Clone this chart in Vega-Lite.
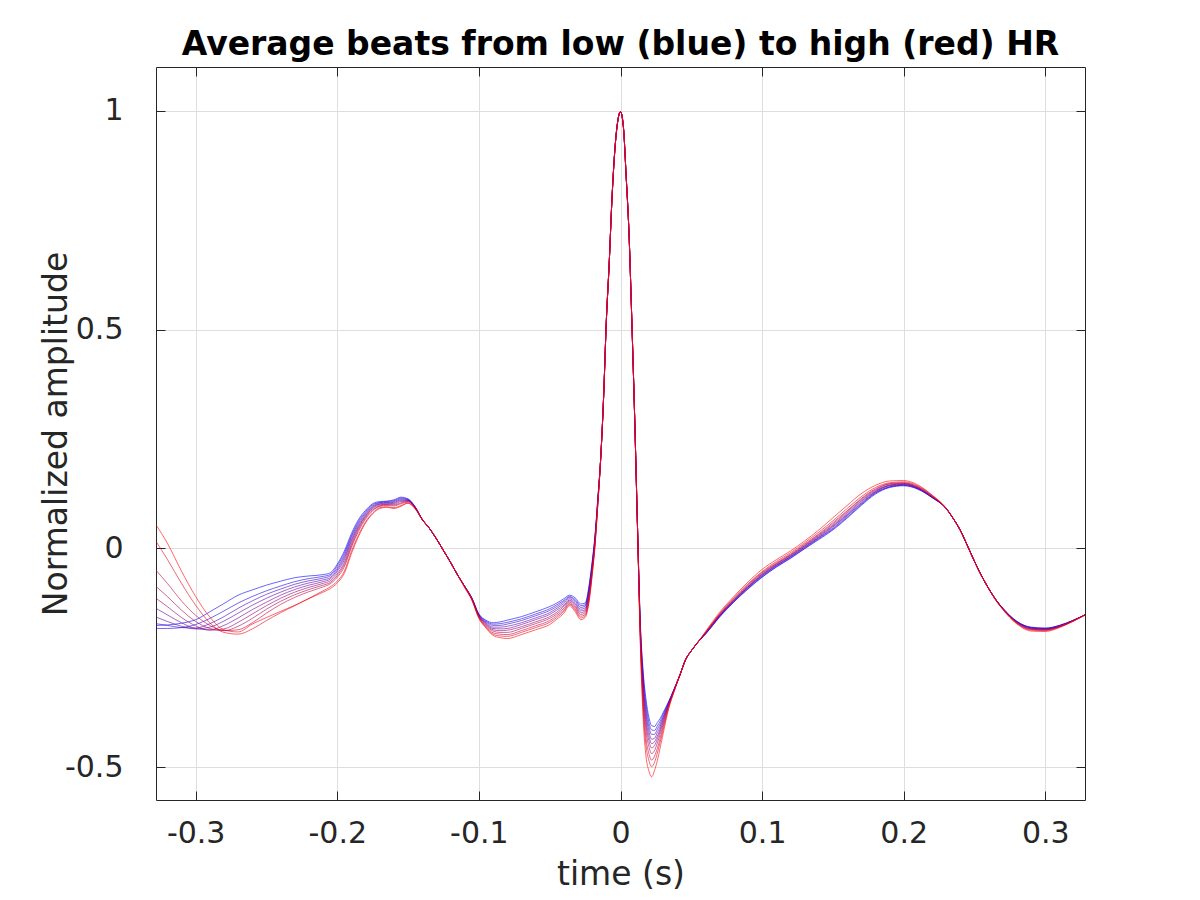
{
  "$schema": "https://vega.github.io/schema/vega-lite/v6.json",
  "width": 929,
  "height": 733,
  "autosize": {"type": "none"},
  "padding": {"left": 156, "top": 67, "right": 115, "bottom": 100},
  "background": "#ffffff",
  "title": {
    "text": "Average beats from low (blue) to high (red) HR",
    "font": "DejaVu Sans",
    "fontSize": 33,
    "fontWeight": "bold",
    "color": "#000000",
    "anchor": "middle",
    "frame": "group",
    "baseline": "alphabetic",
    "offset": -21
  },
  "data": {
    "values": [
      {"t": -0.328, "b0": -0.176, "b1": -0.183, "b2": -0.172, "b3": -0.157, "b4": -0.137, "b5": -0.114, "b6": -0.087, "b7": -0.050, "b8": 0.016, "b9": 0.054},
      {"t": -0.32, "b0": -0.175, "b1": -0.183, "b2": -0.176, "b3": -0.167, "b4": -0.152, "b5": -0.133, "b6": -0.110, "b7": -0.080, "b8": -0.025, "b9": 0.012},
      {"t": -0.31, "b0": -0.171, "b1": -0.181, "b2": -0.181, "b3": -0.178, "b4": -0.170, "b5": -0.158, "b6": -0.141, "b7": -0.120, "b8": -0.080, "b9": -0.052},
      {"t": -0.30, "b0": -0.163, "b1": -0.174, "b2": -0.182, "b3": -0.184, "b4": -0.183, "b5": -0.177, "b6": -0.167, "b7": -0.153, "b8": -0.130, "b9": -0.110},
      {"t": -0.29, "b0": -0.145, "b1": -0.160, "b2": -0.172, "b3": -0.180, "b4": -0.186, "b5": -0.187, "b6": -0.183, "b7": -0.176, "b8": -0.170, "b9": -0.157},
      {"t": -0.28, "b0": -0.126, "b1": -0.143, "b2": -0.156, "b3": -0.166, "b4": -0.176, "b5": -0.184, "b6": -0.188, "b7": -0.188, "b8": -0.192, "b9": -0.186},
      {"t": -0.27, "b0": -0.107, "b1": -0.125, "b2": -0.137, "b3": -0.148, "b4": -0.159, "b5": -0.169, "b6": -0.178, "b7": -0.186, "b8": -0.196, "b9": -0.191},
      {"t": -0.26, "b0": -0.095, "b1": -0.110, "b2": -0.120, "b3": -0.130, "b4": -0.140, "b5": -0.150, "b6": -0.160, "b7": -0.170, "b8": -0.184, "b9": -0.173},
      {"t": -0.25, "b0": -0.084, "b1": -0.097, "b2": -0.105, "b3": -0.114, "b4": -0.123, "b5": -0.131, "b6": -0.139, "b7": -0.148, "b8": -0.165, "b9": -0.158},
      {"t": -0.24, "b0": -0.075, "b1": -0.086, "b2": -0.093, "b3": -0.100, "b4": -0.107, "b5": -0.114, "b6": -0.121, "b7": -0.128, "b8": -0.147, "b9": -0.144},
      {"t": -0.23, "b0": -0.067, "b1": -0.076, "b2": -0.082, "b3": -0.088, "b4": -0.094, "b5": -0.100, "b6": -0.106, "b7": -0.112, "b8": -0.131, "b9": -0.130},
      {"t": -0.22, "b0": -0.063, "b1": -0.069, "b2": -0.074, "b3": -0.079, "b4": -0.084, "b5": -0.089, "b6": -0.094, "b7": -0.099, "b8": -0.114, "b9": -0.115},
      {"t": -0.21, "b0": -0.060, "b1": -0.064, "b2": -0.068, "b3": -0.072, "b4": -0.076, "b5": -0.080, "b6": -0.084, "b7": -0.088, "b8": -0.097, "b9": -0.100},
      {"t": -0.205, "b0": -0.056, "b1": -0.060, "b2": -0.063, "b3": -0.067, "b4": -0.070, "b5": -0.074, "b6": -0.078, "b7": -0.081, "b8": -0.088, "b9": -0.092},
      {"t": -0.20, "b0": -0.036, "b1": -0.040, "b2": -0.045, "b3": -0.049, "b4": -0.053, "b5": -0.058, "b6": -0.062, "b7": -0.066, "b8": -0.075, "b9": -0.079},
      {"t": -0.195, "b0": -0.006, "b1": -0.011, "b2": -0.016, "b3": -0.021, "b4": -0.026, "b5": -0.032, "b6": -0.037, "b7": -0.042, "b8": -0.052, "b9": -0.057},
      {"t": -0.19, "b0": 0.034, "b1": 0.029, "b2": 0.025, "b3": 0.020, "b4": 0.016, "b5": 0.011, "b6": 0.006, "b7": 0.002, "b8": -0.007, "b9": -0.012},
      {"t": -0.185, "b0": 0.066, "b1": 0.062, "b2": 0.058, "b3": 0.054, "b4": 0.050, "b5": 0.047, "b6": 0.043, "b7": 0.039, "b8": 0.031, "b9": 0.027},
      {"t": -0.18, "b0": 0.087, "b1": 0.084, "b2": 0.081, "b3": 0.078, "b4": 0.075, "b5": 0.073, "b6": 0.070, "b7": 0.067, "b8": 0.061, "b9": 0.058},
      {"t": -0.175, "b0": 0.102, "b1": 0.100, "b2": 0.097, "b3": 0.095, "b4": 0.093, "b5": 0.091, "b6": 0.088, "b7": 0.086, "b8": 0.081, "b9": 0.079},
      {"t": -0.17, "b0": 0.107, "b1": 0.105, "b2": 0.104, "b3": 0.102, "b4": 0.101, "b5": 0.099, "b6": 0.097, "b7": 0.096, "b8": 0.093, "b9": 0.091},
      {"t": -0.165, "b0": 0.108, "b1": 0.107, "b2": 0.105, "b3": 0.104, "b4": 0.102, "b5": 0.101, "b6": 0.100, "b7": 0.098, "b8": 0.095, "b9": 0.094},
      {"t": -0.16, "b0": 0.111, "b1": 0.109, "b2": 0.107, "b3": 0.105, "b4": 0.103, "b5": 0.101, "b6": 0.099, "b7": 0.097, "b8": 0.093, "b9": 0.091},
      {"t": -0.155, "b0": 0.117, "b1": 0.115, "b2": 0.113, "b3": 0.111, "b4": 0.109, "b5": 0.107, "b6": 0.104, "b7": 0.102, "b8": 0.098, "b9": 0.096},
      {"t": -0.15, "b0": 0.113, "b1": 0.112, "b2": 0.111, "b3": 0.110, "b4": 0.109, "b5": 0.108, "b6": 0.107, "b7": 0.106, "b8": 0.104, "b9": 0.103},
      {"t": -0.145, "b0": 0.095, "b1": 0.095, "b2": 0.094, "b3": 0.094, "b4": 0.093, "b5": 0.093, "b6": 0.092, "b7": 0.092, "b8": 0.091, "b9": 0.090},
      {"t": -0.14, "b0": 0.066, "b1": 0.066, "b2": 0.066, "b3": 0.066, "b4": 0.066, "b5": 0.066, "b6": 0.066, "b7": 0.066, "b8": 0.066, "b9": 0.066},
      {"t": -0.135, "b0": 0.046, "b1": 0.046, "b2": 0.046, "b3": 0.046, "b4": 0.046, "b5": 0.046, "b6": 0.046, "b7": 0.046, "b8": 0.046, "b9": 0.046},
      {"t": -0.13, "b0": 0.022, "b1": 0.022, "b2": 0.022, "b3": 0.022, "b4": 0.022, "b5": 0.022, "b6": 0.022, "b7": 0.022, "b8": 0.022, "b9": 0.022},
      {"t": -0.125, "b0": -0.005, "b1": -0.005, "b2": -0.005, "b3": -0.005, "b4": -0.005, "b5": -0.005, "b6": -0.005, "b7": -0.005, "b8": -0.005, "b9": -0.005},
      {"t": -0.12, "b0": -0.032, "b1": -0.032, "b2": -0.032, "b3": -0.032, "b4": -0.032, "b5": -0.032, "b6": -0.032, "b7": -0.032, "b8": -0.032, "b9": -0.032},
      {"t": -0.115, "b0": -0.061, "b1": -0.061, "b2": -0.061, "b3": -0.061, "b4": -0.061, "b5": -0.061, "b6": -0.061, "b7": -0.061, "b8": -0.061, "b9": -0.061},
      {"t": -0.11, "b0": -0.087, "b1": -0.087, "b2": -0.087, "b3": -0.087, "b4": -0.087, "b5": -0.087, "b6": -0.087, "b7": -0.088, "b8": -0.089, "b9": -0.090},
      {"t": -0.105, "b0": -0.113, "b1": -0.113, "b2": -0.114, "b3": -0.114, "b4": -0.115, "b5": -0.115, "b6": -0.116, "b7": -0.116, "b8": -0.117, "b9": -0.118},
      {"t": -0.10, "b0": -0.150, "b1": -0.151, "b2": -0.152, "b3": -0.153, "b4": -0.154, "b5": -0.155, "b6": -0.156, "b7": -0.157, "b8": -0.159, "b9": -0.160},
      {"t": -0.095, "b0": -0.164, "b1": -0.166, "b2": -0.168, "b3": -0.170, "b4": -0.172, "b5": -0.174, "b6": -0.176, "b7": -0.178, "b8": -0.180, "b9": -0.182},
      {"t": -0.09, "b0": -0.170, "b1": -0.173, "b2": -0.176, "b3": -0.180, "b4": -0.183, "b5": -0.186, "b6": -0.189, "b7": -0.193, "b8": -0.196, "b9": -0.199},
      {"t": -0.085, "b0": -0.168, "b1": -0.172, "b2": -0.176, "b3": -0.180, "b4": -0.184, "b5": -0.188, "b6": -0.192, "b7": -0.196, "b8": -0.200, "b9": -0.204},
      {"t": -0.08, "b0": -0.164, "b1": -0.169, "b2": -0.173, "b3": -0.178, "b4": -0.183, "b5": -0.187, "b6": -0.192, "b7": -0.197, "b8": -0.201, "b9": -0.206},
      {"t": -0.07, "b0": -0.156, "b1": -0.161, "b2": -0.165, "b3": -0.170, "b4": -0.174, "b5": -0.179, "b6": -0.183, "b7": -0.188, "b8": -0.192, "b9": -0.197},
      {"t": -0.06, "b0": -0.145, "b1": -0.150, "b2": -0.154, "b3": -0.159, "b4": -0.163, "b5": -0.168, "b6": -0.172, "b7": -0.177, "b8": -0.181, "b9": -0.186},
      {"t": -0.05, "b0": -0.133, "b1": -0.138, "b2": -0.142, "b3": -0.147, "b4": -0.151, "b5": -0.156, "b6": -0.160, "b7": -0.165, "b8": -0.169, "b9": -0.174},
      {"t": -0.045, "b0": -0.125, "b1": -0.129, "b2": -0.133, "b3": -0.137, "b4": -0.141, "b5": -0.146, "b6": -0.150, "b7": -0.154, "b8": -0.158, "b9": -0.162},
      {"t": -0.04, "b0": -0.115, "b1": -0.119, "b2": -0.122, "b3": -0.126, "b4": -0.130, "b5": -0.133, "b6": -0.137, "b7": -0.141, "b8": -0.144, "b9": -0.148},
      {"t": -0.036, "b0": -0.107, "b1": -0.110, "b2": -0.112, "b3": -0.115, "b4": -0.118, "b5": -0.120, "b6": -0.123, "b7": -0.126, "b8": -0.128, "b9": -0.131},
      {"t": -0.032, "b0": -0.113, "b1": -0.117, "b2": -0.120, "b3": -0.124, "b4": -0.127, "b5": -0.131, "b6": -0.134, "b7": -0.138, "b8": -0.141, "b9": -0.145},
      {"t": -0.028, "b0": -0.127, "b1": -0.131, "b2": -0.135, "b3": -0.139, "b4": -0.143, "b5": -0.147, "b6": -0.151, "b7": -0.155, "b8": -0.159, "b9": -0.163},
      {"t": -0.025, "b0": -0.125, "b1": -0.129, "b2": -0.132, "b3": -0.136, "b4": -0.140, "b5": -0.143, "b6": -0.147, "b7": -0.151, "b8": -0.154, "b9": -0.158},
      {"t": -0.022, "b0": -0.080, "b1": -0.084, "b2": -0.088, "b3": -0.093, "b4": -0.097, "b5": -0.101, "b6": -0.105, "b7": -0.110, "b8": -0.114, "b9": -0.118},
      {"t": -0.02, "b0": -0.030, "b1": -0.034, "b2": -0.037, "b3": -0.041, "b4": -0.044, "b5": -0.048, "b6": -0.051, "b7": -0.055, "b8": -0.058, "b9": -0.062},
      {"t": -0.018, "b0": 0.030, "b1": 0.027, "b2": 0.024, "b3": 0.022, "b4": 0.019, "b5": 0.016, "b6": 0.013, "b7": 0.011, "b8": 0.008, "b9": 0.005},
      {"t": -0.016, "b0": 0.115, "b1": 0.113, "b2": 0.112, "b3": 0.110, "b4": 0.108, "b5": 0.107, "b6": 0.105, "b7": 0.103, "b8": 0.102, "b9": 0.100},
      {"t": -0.014, "b0": 0.205, "b1": 0.205, "b2": 0.205, "b3": 0.205, "b4": 0.205, "b5": 0.205, "b6": 0.205, "b7": 0.205, "b8": 0.205, "b9": 0.205},
      {"t": -0.012, "b0": 0.34, "b1": 0.34, "b2": 0.34, "b3": 0.34, "b4": 0.34, "b5": 0.34, "b6": 0.34, "b7": 0.34, "b8": 0.34, "b9": 0.34},
      {"t": -0.010, "b0": 0.52, "b1": 0.52, "b2": 0.52, "b3": 0.52, "b4": 0.52, "b5": 0.52, "b6": 0.52, "b7": 0.52, "b8": 0.52, "b9": 0.52},
      {"t": -0.008, "b0": 0.65, "b1": 0.65, "b2": 0.65, "b3": 0.65, "b4": 0.65, "b5": 0.65, "b6": 0.65, "b7": 0.65, "b8": 0.65, "b9": 0.65},
      {"t": -0.006, "b0": 0.80, "b1": 0.80, "b2": 0.80, "b3": 0.80, "b4": 0.80, "b5": 0.80, "b6": 0.80, "b7": 0.80, "b8": 0.80, "b9": 0.80},
      {"t": -0.004, "b0": 0.91, "b1": 0.91, "b2": 0.91, "b3": 0.91, "b4": 0.91, "b5": 0.91, "b6": 0.91, "b7": 0.91, "b8": 0.91, "b9": 0.91},
      {"t": -0.002, "b0": 0.975, "b1": 0.975, "b2": 0.975, "b3": 0.975, "b4": 0.975, "b5": 0.975, "b6": 0.975, "b7": 0.975, "b8": 0.975, "b9": 0.975},
      {"t": 0.0, "b0": 0.998, "b1": 0.998, "b2": 0.998, "b3": 0.998, "b4": 0.998, "b5": 0.998, "b6": 0.998, "b7": 0.998, "b8": 0.998, "b9": 0.998},
      {"t": 0.002, "b0": 0.965, "b1": 0.965, "b2": 0.965, "b3": 0.965, "b4": 0.965, "b5": 0.965, "b6": 0.965, "b7": 0.965, "b8": 0.965, "b9": 0.965},
      {"t": 0.004, "b0": 0.85, "b1": 0.85, "b2": 0.85, "b3": 0.85, "b4": 0.85, "b5": 0.85, "b6": 0.85, "b7": 0.85, "b8": 0.85, "b9": 0.85},
      {"t": 0.006, "b0": 0.72, "b1": 0.72, "b2": 0.72, "b3": 0.72, "b4": 0.72, "b5": 0.72, "b6": 0.72, "b7": 0.72, "b8": 0.72, "b9": 0.72},
      {"t": 0.008, "b0": 0.52, "b1": 0.52, "b2": 0.52, "b3": 0.52, "b4": 0.52, "b5": 0.52, "b6": 0.52, "b7": 0.52, "b8": 0.52, "b9": 0.52},
      {"t": 0.010, "b0": 0.30, "b1": 0.30, "b2": 0.30, "b3": 0.30, "b4": 0.30, "b5": 0.30, "b6": 0.30, "b7": 0.30, "b8": 0.30, "b9": 0.30},
      {"t": 0.012, "b0": 0.05, "b1": 0.05, "b2": 0.05, "b3": 0.05, "b4": 0.05, "b5": 0.05, "b6": 0.05, "b7": 0.05, "b8": 0.05, "b9": 0.05},
      {"t": 0.014, "b0": -0.170, "b1": -0.174, "b2": -0.179, "b3": -0.183, "b4": -0.188, "b5": -0.192, "b6": -0.197, "b7": -0.204, "b8": -0.210, "b9": -0.220},
      {"t": 0.016, "b0": -0.280, "b1": -0.290, "b2": -0.299, "b3": -0.309, "b4": -0.319, "b5": -0.328, "b6": -0.340, "b7": -0.354, "b8": -0.369, "b9": -0.390},
      {"t": 0.018, "b0": -0.345, "b1": -0.356, "b2": -0.368, "b3": -0.379, "b4": -0.391, "b5": -0.402, "b6": -0.416, "b7": -0.433, "b8": -0.450, "b9": -0.475},
      {"t": 0.020, "b0": -0.385, "b1": -0.396, "b2": -0.407, "b3": -0.417, "b4": -0.428, "b5": -0.439, "b6": -0.452, "b7": -0.468, "b8": -0.484, "b9": -0.508},
      {"t": 0.022, "b0": -0.405, "b1": -0.415, "b2": -0.425, "b3": -0.436, "b4": -0.446, "b5": -0.456, "b6": -0.469, "b7": -0.484, "b8": -0.499, "b9": -0.522},
      {"t": 0.024, "b0": -0.407, "b1": -0.416, "b2": -0.425, "b3": -0.434, "b4": -0.442, "b5": -0.451, "b6": -0.462, "b7": -0.475, "b8": -0.489, "b9": -0.508},
      {"t": 0.026, "b0": -0.398, "b1": -0.406, "b2": -0.413, "b3": -0.421, "b4": -0.429, "b5": -0.436, "b6": -0.445, "b7": -0.457, "b8": -0.468, "b9": -0.485},
      {"t": 0.028, "b0": -0.389, "b1": -0.395, "b2": -0.401, "b3": -0.407, "b4": -0.413, "b5": -0.418, "b6": -0.425, "b7": -0.434, "b8": -0.443, "b9": -0.456},
      {"t": 0.030, "b0": -0.376, "b1": -0.380, "b2": -0.385, "b3": -0.389, "b4": -0.393, "b5": -0.398, "b6": -0.403, "b7": -0.409, "b8": -0.416, "b9": -0.425},
      {"t": 0.034, "b0": -0.350, "b1": -0.351, "b2": -0.353, "b3": -0.354, "b4": -0.356, "b5": -0.357, "b6": -0.359, "b7": -0.361, "b8": -0.364, "b9": -0.367},
      {"t": 0.038, "b0": -0.320, "b1": -0.321, "b2": -0.321, "b3": -0.322, "b4": -0.322, "b5": -0.323, "b6": -0.323, "b7": -0.324, "b8": -0.325, "b9": -0.326},
      {"t": 0.042, "b0": -0.289, "b1": -0.289, "b2": -0.289, "b3": -0.289, "b4": -0.289, "b5": -0.289, "b6": -0.289, "b7": -0.289, "b8": -0.289, "b9": -0.289},
      {"t": 0.046, "b0": -0.254, "b1": -0.254, "b2": -0.254, "b3": -0.254, "b4": -0.254, "b5": -0.254, "b6": -0.254, "b7": -0.254, "b8": -0.254, "b9": -0.254},
      {"t": 0.05, "b0": -0.234, "b1": -0.234, "b2": -0.234, "b3": -0.234, "b4": -0.234, "b5": -0.234, "b6": -0.234, "b7": -0.234, "b8": -0.234, "b9": -0.234},
      {"t": 0.055, "b0": -0.213, "b1": -0.213, "b2": -0.213, "b3": -0.213, "b4": -0.213, "b5": -0.213, "b6": -0.213, "b7": -0.213, "b8": -0.213, "b9": -0.213},
      {"t": 0.06, "b0": -0.196, "b1": -0.196, "b2": -0.195, "b3": -0.195, "b4": -0.194, "b5": -0.194, "b6": -0.193, "b7": -0.192, "b8": -0.192, "b9": -0.190},
      {"t": 0.07, "b0": -0.157, "b1": -0.156, "b2": -0.155, "b3": -0.154, "b4": -0.153, "b5": -0.153, "b6": -0.152, "b7": -0.150, "b8": -0.149, "b9": -0.146},
      {"t": 0.08, "b0": -0.123, "b1": -0.122, "b2": -0.121, "b3": -0.120, "b4": -0.119, "b5": -0.118, "b6": -0.117, "b7": -0.115, "b8": -0.113, "b9": -0.110},
      {"t": 0.09, "b0": -0.093, "b1": -0.092, "b2": -0.090, "b3": -0.089, "b4": -0.088, "b5": -0.087, "b6": -0.085, "b7": -0.083, "b8": -0.081, "b9": -0.077},
      {"t": 0.10, "b0": -0.066, "b1": -0.065, "b2": -0.063, "b3": -0.062, "b4": -0.060, "b5": -0.059, "b6": -0.057, "b7": -0.055, "b8": -0.053, "b9": -0.048},
      {"t": 0.11, "b0": -0.043, "b1": -0.042, "b2": -0.040, "b3": -0.039, "b4": -0.038, "b5": -0.036, "b6": -0.035, "b7": -0.033, "b8": -0.030, "b9": -0.026},
      {"t": 0.12, "b0": -0.023, "b1": -0.022, "b2": -0.020, "b3": -0.019, "b4": -0.018, "b5": -0.016, "b6": -0.015, "b7": -0.013, "b8": -0.010, "b9": -0.006},
      {"t": 0.13, "b0": -0.001, "b1": 0.000, "b2": 0.002, "b3": 0.003, "b4": 0.005, "b5": 0.006, "b6": 0.008, "b7": 0.010, "b8": 0.013, "b9": 0.017},
      {"t": 0.14, "b0": 0.020, "b1": 0.022, "b2": 0.024, "b3": 0.025, "b4": 0.027, "b5": 0.029, "b6": 0.031, "b7": 0.033, "b8": 0.037, "b9": 0.042},
      {"t": 0.15, "b0": 0.042, "b1": 0.044, "b2": 0.046, "b3": 0.049, "b4": 0.051, "b5": 0.053, "b6": 0.056, "b7": 0.059, "b8": 0.063, "b9": 0.070},
      {"t": 0.16, "b0": 0.069, "b1": 0.071, "b2": 0.074, "b3": 0.076, "b4": 0.078, "b5": 0.081, "b6": 0.084, "b7": 0.086, "b8": 0.091, "b9": 0.098},
      {"t": 0.17, "b0": 0.098, "b1": 0.100, "b2": 0.102, "b3": 0.104, "b4": 0.107, "b5": 0.109, "b6": 0.112, "b7": 0.114, "b8": 0.118, "b9": 0.125},
      {"t": 0.18, "b0": 0.124, "b1": 0.126, "b2": 0.127, "b3": 0.129, "b4": 0.130, "b5": 0.132, "b6": 0.134, "b7": 0.136, "b8": 0.139, "b9": 0.144},
      {"t": 0.19, "b0": 0.139, "b1": 0.140, "b2": 0.141, "b3": 0.143, "b4": 0.144, "b5": 0.145, "b6": 0.147, "b7": 0.148, "b8": 0.150, "b9": 0.154},
      {"t": 0.20, "b0": 0.143, "b1": 0.144, "b2": 0.145, "b3": 0.146, "b4": 0.147, "b5": 0.148, "b6": 0.149, "b7": 0.150, "b8": 0.152, "b9": 0.155},
      {"t": 0.21, "b0": 0.135, "b1": 0.136, "b2": 0.137, "b3": 0.137, "b4": 0.138, "b5": 0.139, "b6": 0.140, "b7": 0.141, "b8": 0.143, "b9": 0.145},
      {"t": 0.22, "b0": 0.116, "b1": 0.116, "b2": 0.117, "b3": 0.117, "b4": 0.118, "b5": 0.118, "b6": 0.119, "b7": 0.120, "b8": 0.121, "b9": 0.122},
      {"t": 0.23, "b0": 0.091, "b1": 0.091, "b2": 0.091, "b3": 0.091, "b4": 0.091, "b5": 0.091, "b6": 0.091, "b7": 0.091, "b8": 0.091, "b9": 0.092},
      {"t": 0.235, "b0": 0.068, "b1": 0.068, "b2": 0.068, "b3": 0.068, "b4": 0.068, "b5": 0.068, "b6": 0.068, "b7": 0.068, "b8": 0.068, "b9": 0.068},
      {"t": 0.24, "b0": 0.041, "b1": 0.041, "b2": 0.041, "b3": 0.041, "b4": 0.041, "b5": 0.041, "b6": 0.041, "b7": 0.041, "b8": 0.041, "b9": 0.041},
      {"t": 0.245, "b0": 0.006, "b1": 0.006, "b2": 0.006, "b3": 0.006, "b4": 0.006, "b5": 0.006, "b6": 0.006, "b7": 0.006, "b8": 0.006, "b9": 0.006},
      {"t": 0.25, "b0": -0.030, "b1": -0.030, "b2": -0.030, "b3": -0.030, "b4": -0.030, "b5": -0.030, "b6": -0.030, "b7": -0.030, "b8": -0.030, "b9": -0.030},
      {"t": 0.255, "b0": -0.063, "b1": -0.063, "b2": -0.063, "b3": -0.063, "b4": -0.063, "b5": -0.063, "b6": -0.063, "b7": -0.063, "b8": -0.063, "b9": -0.063},
      {"t": 0.26, "b0": -0.092, "b1": -0.092, "b2": -0.092, "b3": -0.092, "b4": -0.092, "b5": -0.092, "b6": -0.092, "b7": -0.092, "b8": -0.092, "b9": -0.092},
      {"t": 0.265, "b0": -0.117, "b1": -0.117, "b2": -0.117, "b3": -0.117, "b4": -0.117, "b5": -0.117, "b6": -0.118, "b7": -0.118, "b8": -0.118, "b9": -0.119},
      {"t": 0.27, "b0": -0.137, "b1": -0.137, "b2": -0.137, "b3": -0.138, "b4": -0.138, "b5": -0.138, "b6": -0.138, "b7": -0.139, "b8": -0.139, "b9": -0.140},
      {"t": 0.28, "b0": -0.167, "b1": -0.167, "b2": -0.168, "b3": -0.168, "b4": -0.169, "b5": -0.169, "b6": -0.170, "b7": -0.171, "b8": -0.172, "b9": -0.173},
      {"t": 0.29, "b0": -0.180, "b1": -0.181, "b2": -0.181, "b3": -0.182, "b4": -0.183, "b5": -0.184, "b6": -0.185, "b7": -0.185, "b8": -0.187, "b9": -0.189},
      {"t": 0.30, "b0": -0.182, "b1": -0.183, "b2": -0.183, "b3": -0.184, "b4": -0.185, "b5": -0.185, "b6": -0.186, "b7": -0.187, "b8": -0.188, "b9": -0.190},
      {"t": 0.31, "b0": -0.176, "b1": -0.176, "b2": -0.177, "b3": -0.177, "b4": -0.178, "b5": -0.178, "b6": -0.179, "b7": -0.179, "b8": -0.180, "b9": -0.181},
      {"t": 0.32, "b0": -0.164, "b1": -0.164, "b2": -0.164, "b3": -0.164, "b4": -0.165, "b5": -0.165, "b6": -0.165, "b7": -0.165, "b8": -0.166, "b9": -0.166},
      {"t": 0.328, "b0": -0.152, "b1": -0.152, "b2": -0.152, "b3": -0.152, "b4": -0.152, "b5": -0.152, "b6": -0.152, "b7": -0.152, "b8": -0.152, "b9": -0.152}
    ]
  },
  "transform": [
    {"fold": ["b0", "b1", "b2", "b3", "b4", "b5", "b6", "b7", "b8", "b9"], "as": ["beat", "amp"]}
  ],
  "layer": [
    {
      "mark": {"type": "line", "strokeWidth": 0.8, "opacity": 0.75, "interpolate": "monotone", "clip": true},
      "encoding": {
        "x": {
          "field": "t",
          "type": "quantitative",
          "scale": {"domain": [-0.328, 0.328], "nice": false, "zero": false},
          "axis": {
            "orient": "bottom",
            "values": [-0.3, -0.2, -0.1, 0, 0.1, 0.2, 0.3],
            "labelExpr": "toString(datum.value)",
            "grid": true,
            "gridColor": "#dedede",
            "gridWidth": 1,
            "domainColor": "#262626",
            "domainWidth": 1,
            "tickColor": "#262626",
            "tickWidth": 1,
            "tickSize": -9,
            "labelFont": "DejaVu Sans",
            "labelFontSize": 30,
            "labelColor": "#262626",
            "labelBaseline": "alphabetic",
            "labelPadding": 51,
            "labelFlush": false,
            "labelOverlap": false,
            "title": "time (s)",
            "titleFont": "DejaVu Sans",
            "titleFontSize": 33,
            "titleFontWeight": "normal",
            "titleColor": "#262626",
            "titleBaseline": "alphabetic",
            "titleAlign": "center",
            "titleX": 464.5,
            "titleY": 84
          }
        },
        "y": {
          "field": "amp",
          "type": "quantitative",
          "scale": {"domain": [-0.575, 1.1], "nice": false, "zero": false},
          "axis": {
            "orient": "left",
            "values": [-0.5, 0, 0.5, 1],
            "labelExpr": "toString(datum.value)",
            "grid": true,
            "gridColor": "#dedede",
            "gridWidth": 1,
            "domainColor": "#262626",
            "domainWidth": 1,
            "tickColor": "#262626",
            "tickWidth": 1,
            "tickSize": -9,
            "labelFont": "DejaVu Sans",
            "labelFontSize": 30,
            "labelColor": "#262626",
            "labelBaseline": "middle",
            "labelAlign": "right",
            "labelPadding": 42,
            "labelFlush": false,
            "labelOverlap": false,
            "title": "Normalized amplitude",
            "titleFont": "DejaVu Sans",
            "titleFontSize": 33,
            "titleFontWeight": "normal",
            "titleColor": "#262626",
            "titleAngle": 270,
            "titleBaseline": "alphabetic",
            "titleAlign": "center",
            "titleX": -90,
            "titleY": 366.5
          }
        },
        "color": {
          "field": "beat",
          "type": "nominal",
          "scale": {
            "domain": ["b0", "b1", "b2", "b3", "b4", "b5", "b6", "b7", "b8", "b9"],
            "range": ["#0000ff", "#1c00e3", "#3900c6", "#5500aa", "#71008e", "#8e0071", "#aa0055", "#c60039", "#e3001c", "#ff0000"]
          },
          "legend": null
        }
      }
    },
    {
      "mark": {"type": "point", "opacity": 0},
      "encoding": {
        "x": {
          "field": "t",
          "type": "quantitative",
          "scale": {"domain": [-0.328, 0.328], "nice": false, "zero": false},
          "axis": {
            "orient": "top",
            "values": [-0.3, -0.2, -0.1, 0, 0.1, 0.2, 0.3],
            "labels": false,
            "grid": false,
            "title": null,
            "domainColor": "#262626",
            "domainWidth": 1,
            "tickColor": "#262626",
            "tickWidth": 1,
            "tickSize": -9
          }
        },
        "y": {
          "field": "amp",
          "type": "quantitative",
          "scale": {"domain": [-0.575, 1.1], "nice": false, "zero": false},
          "axis": {
            "orient": "right",
            "values": [-0.5, 0, 0.5, 1],
            "labels": false,
            "grid": false,
            "title": null,
            "domainColor": "#262626",
            "domainWidth": 1,
            "tickColor": "#262626",
            "tickWidth": 1,
            "tickSize": -9
          }
        }
      }
    }
  ],
  "resolve": {"axis": {"x": "independent", "y": "independent"}},
  "config": {
    "view": {"stroke": null}
  }
}
